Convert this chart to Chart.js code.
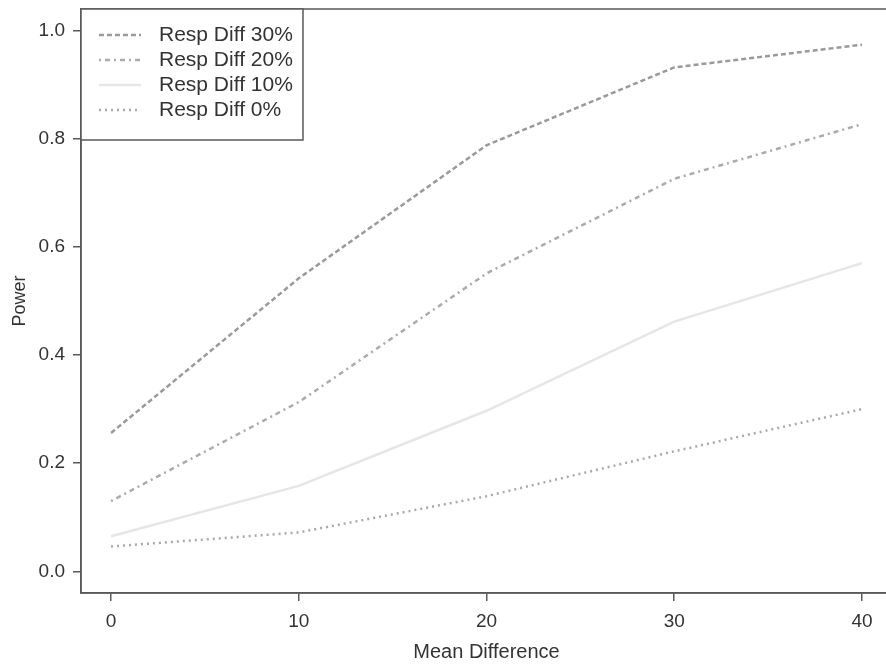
<!DOCTYPE html>
<html>
<head>
<meta charset="utf-8">
<title>Power by mean difference</title>
<script src="https://cdn.jsdelivr.net/npm/chart.js@4.4.1/dist/chart.umd.min.js"></script>
<style>
  html, body { margin: 0; padding: 0; background: #fff; overflow: hidden; }
  #wrap { width: 900px; height: 665px; }
</style>
</head>
<body>
<div id="wrap"><canvas id="powerChart" width="900" height="665"></canvas></div>
<script>
// Simulated power for each response difference, by mean difference
const meanDiff = [0, 10, 20, 30, 40];
const power30 = [0.256, 0.542, 0.788, 0.932, 0.974];
const power20 = [0.130, 0.313, 0.551, 0.726, 0.827];
const power10 = [0.065, 0.158, 0.297, 0.462, 0.570];
const power0 = [0.046, 0.072, 0.139, 0.222, 0.300];

const seriesLabels = ['Resp Diff 30%', 'Resp Diff 20%', 'Resp Diff 10%', 'Resp Diff 0%'];
const xTicks = [0, 10, 20, 30, 40];
const yTicks = [0, 0.2, 0.4, 0.6, 0.8, 1.0];

const axisColor = '#5a5a5a';
const textColor = '#333';
const fontFamily = '"Liberation Sans", Arial, Helvetica, sans-serif';

function toPoints(values) {
  return meanDiff.map((x, i) => ({ x, y: values[i] }));
}

function lineSet(label, values, color, dash) {
  return {
    label,
    data: toPoints(values),
    borderColor: color,
    borderWidth: 2.5,
    borderDash: dash,
    pointRadius: 0,
    tension: 0,
    fill: false,
  };
}

// box around the plot region plus a top-left legend, drawn the base-graphics way
const framePlugin = {
  id: 'frame',
  afterDraw(chart) {
    const { ctx, chartArea: a } = chart;
    ctx.save();
    ctx.strokeStyle = axisColor;
    ctx.lineWidth = 1.5;
    ctx.strokeRect(a.left, a.top, a.right - a.left, a.bottom - a.top);

    // legend
    const lx = a.left, ly = a.top, lw = 222, lh = 131;
    ctx.fillStyle = '#fff';
    ctx.fillRect(lx, ly, lw, lh);
    ctx.strokeRect(lx, ly, lw, lh);
    ctx.font = '21px ' + fontFamily;
    ctx.textBaseline = 'middle';
    chart.data.datasets.forEach((ds, i) => {
      const y = ly + 26 + i * 25;
      ctx.strokeStyle = ds.borderColor;
      ctx.lineWidth = ds.borderWidth;
      ctx.setLineDash(ds.borderDash || []);
      ctx.beginPath();
      ctx.moveTo(lx + 18, y);
      ctx.lineTo(lx + 60, y);
      ctx.stroke();
      ctx.setLineDash([]);
      ctx.fillStyle = textColor;
      ctx.fillText(ds.label, lx + 78, y);
    });
    ctx.restore();
  },
};

const ctx = document.getElementById('powerChart').getContext('2d');
new Chart(ctx, {
  type: 'line',
  data: {
    datasets: [
      lineSet(seriesLabels[0], power30, '#9a9a9a', [5, 3]),
      lineSet(seriesLabels[1], power20, '#ababab', [2, 4, 5, 4]),
      lineSet(seriesLabels[2], power10, '#e6e6e6', []),
      lineSet(seriesLabels[3], power0, '#a9a9a9', [2, 4]),
    ],
  },
  options: {
    responsive: false,
    animation: false,
    layout: { padding: { left: 0, top: 9, right: 8, bottom: 0 } },
    plugins: { legend: { display: false }, tooltip: { enabled: false } },
    scales: {
      x: {
        type: 'linear',
        min: -1.6,
        max: 41.6,
        afterBuildTicks: (scale) => {
          scale.ticks = xTicks.map((v) => ({ value: v }));
        },
        afterFit: (scale) => {
          scale.height = 72;
          scale.paddingLeft = 0;
          scale.paddingRight = 0;
        },
        grid: {
          drawOnChartArea: false,
          drawTicks: true,
          tickLength: 8,
          color: axisColor,
          lineWidth: 1.5,
        },
        border: { display: true, color: axisColor, width: 1.5 },
        ticks: {
          color: textColor,
          font: { family: fontFamily, size: 19 },
          padding: 9,
          maxRotation: 0,
          callback: (v) => String(v),
        },
        title: {
          display: true,
          text: 'Mean Difference',
          color: textColor,
          font: { family: fontFamily, size: 20 },
          padding: { top: 0, bottom: 1 },
        },
      },
      y: {
        type: 'linear',
        min: -0.04,
        max: 1.04,
        afterBuildTicks: (scale) => {
          scale.ticks = yTicks.map((v) => ({ value: v }));
        },
        afterFit: (scale) => {
          scale.width = 81;
          scale.paddingTop = 0;
          scale.paddingBottom = 0;
        },
        grid: {
          drawOnChartArea: false,
          drawTicks: true,
          tickLength: 8,
          color: axisColor,
          lineWidth: 1.5,
        },
        border: { display: true, color: axisColor, width: 1.5 },
        ticks: {
          color: textColor,
          font: { family: fontFamily, size: 19 },
          padding: 8,
          callback: (v) => Number(v).toFixed(1),
        },
        title: {
          display: true,
          text: 'Power',
          color: textColor,
          font: { family: fontFamily, size: 18 },
          padding: { top: 9, bottom: 0 },
        },
      },
    },
  },
  plugins: [framePlugin],
});
</script>
</body>
</html>
